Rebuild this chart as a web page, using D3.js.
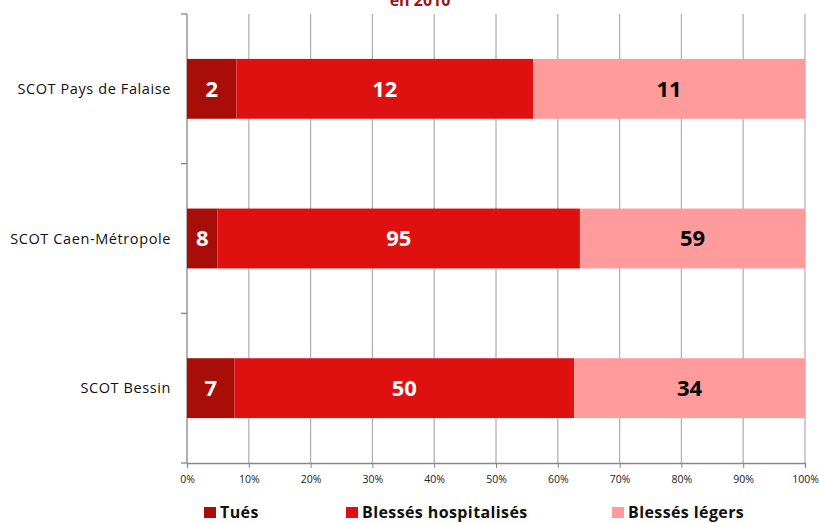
<!DOCTYPE html>
<html>
<head>
<meta charset="utf-8">
<script src="https://cdn.jsdelivr.net/npm/d3@7"></script>
<style>
  body { margin: 0; background: #fff; }
  text { font-family: "Open Sans", Lato, sans-serif; }
</style>
</head>
<body>
<div id="chart"></div>
<script>
// victims by zone, counts per category
var zones = ['SCOT Pays de Falaise', 'SCOT Caen-Métropole', 'SCOT Bessin'];
var series = ['Tués', 'Blessés hospitalisés', 'Blessés légers'];
var tues = [2, 8, 7];
var hospit = [12, 95, 50];
var legers = [11, 59, 34];
var colors = ['#a80d07', '#de1010', '#ff9b9b'];
var tickLabels = d3.range(0, 101, 10).map(function(d) { return d + '%'; });

var w = 819, h = 523;
var margin = {left: 187, right: 14, top: 14, bottom: 60};

var svg = d3.select('#chart').append('svg')
  .attr('width', w)
  .attr('height', h);

var x = d3.scaleLinear().domain([0, 1]).range([margin.left, w - margin.right]);
var y = d3.scaleBand().domain(zones).range([margin.top, h - margin.bottom]).paddingInner(0.6).paddingOuter(0.3);
var yOuter = d3.scaleBand().domain(zones).range([margin.top, h - margin.bottom]);

// title (cut off at the top, as in the source)
svg.append('text')
  .attr('x', 420).attr('y', 6)
  .attr('text-anchor', 'middle')
  .attr('font-weight', 'bold')
  .attr('font-size', 16)
  .attr('fill', '#9e1414')
  .text('en 2010');

// vertical gridlines
svg.append('g')
  .selectAll('line')
  .data(d3.range(0, 1.01, 0.1))
  .enter().append('line')
  .attr('x1', function(d) { return x(d); })
  .attr('x2', function(d) { return x(d); })
  .attr('y1', margin.top)
  .attr('y2', h - margin.bottom)
  .attr('stroke', function(d, i) { return i === 0 ? '#888' : '#b3b3b3'; })
  .attr('stroke-width', 1.3);

// bottom axis
var xAxis = d3.axisBottom(x)
  .tickValues(d3.range(0, 1.01, 0.1))
  .tickFormat(function(d, i) { return tickLabels[i]; })
  .tickSize(5)
  .tickPadding(8);
var gx = svg.append('g')
  .attr('transform', 'translate(0,' + (h - margin.bottom) + ')')
  .call(xAxis);
gx.select('.domain').attr('stroke', '#888').attr('stroke-width', 1.3);
gx.selectAll('.tick line').attr('stroke', '#888');
gx.selectAll('.tick text').attr('font-size', 10.5).attr('fill', '#222')
  .style('font-family', '"Open Sans", sans-serif');

// left category ticks at band boundaries
var bounds = zones.map(function(z) { return yOuter(z); }).concat([h - margin.bottom]);
svg.append('g').selectAll('line')
  .data(bounds)
  .enter().append('line')
  .attr('x1', margin.left - 6).attr('x2', margin.left)
  .attr('y1', function(d) { return d; })
  .attr('y2', function(d) { return d; })
  .attr('stroke', '#888')
  .attr('stroke-width', 1.3);

svg.append('g').selectAll('text')
  .data(zones)
  .enter().append('text')
  .attr('x', margin.left - 16)
  .attr('y', function(d) { return y(d) + y.bandwidth() / 2; })
  .attr('dy', '0.35em')
  .attr('text-anchor', 'end')
  .attr('font-size', 14.5)
  .attr('letter-spacing', 0.6)
  .attr('fill', '#111')
  .text(function(d) { return d; });

// stacked data
var rows = zones.map(function(z, i) {
  return {zone: z, vals: [tues[i], hospit[i], legers[i]]};
});

rows.forEach(function(r) {
  var total = d3.sum(r.vals);
  var acc = 0;
  r.vals.forEach(function(v, j) {
    var x0 = acc / total, x1 = (acc + v) / total;
    acc += v;
    svg.append('rect')
      .attr('x', x(x0))
      .attr('y', y(r.zone))
      .attr('width', x(x1) - x(x0))
      .attr('height', y.bandwidth())
      .attr('fill', colors[j]);
    svg.append('text')
      .attr('x', (x(x0) + x(x1)) / 2)
      .attr('y', y(r.zone) + y.bandwidth() / 2)
      .attr('dy', '0.36em')
      .attr('text-anchor', 'middle')
      .attr('font-weight', 'bold')
      .attr('font-size', 22)
      .attr('fill', j === 2 ? '#000' : '#fff')
      .text(v);
  });
});

// legend
var legendX = [204, 346, 612];
var leg = svg.append('g').selectAll('g')
  .data(series)
  .enter().append('g')
  .attr('transform', function(d, i) { return 'translate(' + legendX[i] + ',507)'; });
leg.append('rect')
  .attr('width', 12).attr('height', 11)
  .attr('fill', function(d, i) { return colors[i]; });
leg.append('text')
  .attr('x', 16).attr('y', 11)
  .attr('font-weight', 'bold')
  .attr('font-size', 16)
  .attr('letter-spacing', 0.4)
  .attr('fill', '#111')
  .text(function(d) { return d; });
</script>
</body>
</html>
